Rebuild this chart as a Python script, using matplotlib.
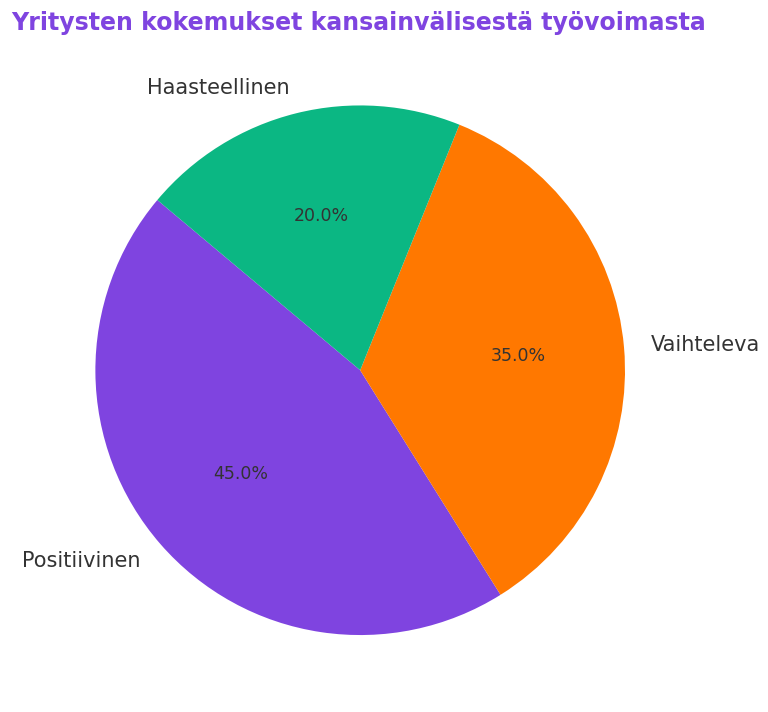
import matplotlib
matplotlib.use("Agg")
import matplotlib.pyplot as plt

labels = ["Positiivinen", "Vaihteleva", "Haasteellinen"]
values = [45, 35, 20]
colors = ["#7F44E0", "#FF7800", "#0BB783"]

fig = plt.figure(figsize=(7.68, 7.12), dpi=100)
ax = fig.add_axes([0.038, 0.015, 0.862, 0.93])
ax.pie(values, labels=labels, colors=colors, startangle=140, autopct="%1.1f%%",
       textprops={"fontsize": 15, "color": "#333333"}, labeldistance=1.1)
for t in ax.texts:
    if t.get_text().endswith("%"):
        t.set_fontsize(12.5)
ax.set_aspect("equal")
fig.text(0.015, 0.967, "Yritysten kokemukset kansainvälisestä työvoimasta",
         fontsize=17, fontweight="bold", color="#7F44E0", ha="left", va="center")
fig.savefig("out.png", dpi=100)
